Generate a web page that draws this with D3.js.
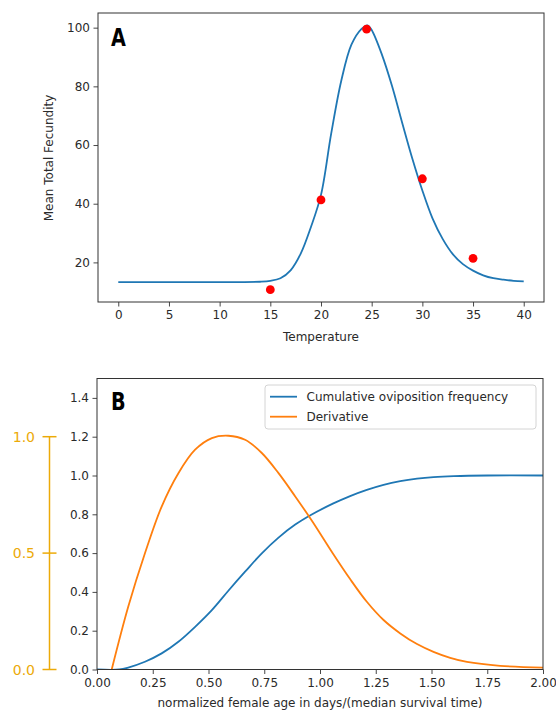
<!DOCTYPE html>
<html>
<head>
<meta charset="utf-8">
<script src="https://cdn.jsdelivr.net/npm/d3@7"></script>
<style>
  body { margin: 0; background: #fff; }
  svg { display: block; }
  text { font-family: "DejaVu Sans", sans-serif; }
</style>
</head>
<body>
<div id="chart"></div>
<script>
// ---------------- data ----------------
// Panel A: observed points
const obsTemp = [15, 20, 24.5, 30, 35];
const obsFecundity = [10.7, 41.3, 99.5, 48.5, 21.4];

// Panel A: fitted curve, read at these temperatures
const fitTemp = [0, 5, 10, 12, 14, 15, 16, 17, 18, 19, 20, 21, 22, 23, 24, 24.6, 25, 26, 27, 28, 29, 30, 31, 32, 33, 34, 35, 36, 37, 38, 39, 40];
const fitFecundity = [13.3, 13.3, 13.3, 13.3, 13.4, 13.7, 14.6, 17.3, 23.0, 32.0, 43.0, 63.8, 81.9, 94.2, 99.6, 100.8, 99.2, 90.9, 80.2, 67.7, 55.5, 44.5, 35.0, 28.0, 22.8, 19.4, 17.2, 15.6, 14.6, 14.1, 13.7, 13.5];

// Panel B: normalized age and the two curves
const ageCum = [0, 0.1, 0.14, 0.215, 0.29, 0.365, 0.44, 0.515, 0.589, 0.664, 0.739, 0.814, 0.889, 0.963, 1.06, 1.135, 1.21, 1.285, 1.36, 1.435, 1.509, 1.6, 1.75, 2.0];
const cumulative = [0, 0, 0.01, 0.04, 0.083, 0.143, 0.22, 0.306, 0.406, 0.504, 0.599, 0.68, 0.747, 0.799, 0.856, 0.894, 0.926, 0.952, 0.971, 0.984, 0.992, 0.997, 1.0, 1.0];

const ageDer = [0.066, 0.14, 0.215, 0.29, 0.365, 0.44, 0.515, 0.589, 0.664, 0.739, 0.814, 0.889, 0.963, 1.06, 1.135, 1.21, 1.285, 1.36, 1.435, 1.509, 1.584, 1.659, 1.808, 2.0];
const derivative = [0, 0.323, 0.599, 0.84, 1.012, 1.133, 1.193, 1.205, 1.184, 1.116, 1.012, 0.892, 0.768, 0.594, 0.466, 0.349, 0.255, 0.186, 0.131, 0.091, 0.06, 0.039, 0.019, 0.01];

const seriesNames = ["Cumulative oviposition frequency", "Derivative"];
const tempTicks = [0, 5, 10, 15, 20, 25, 30, 35, 40];
const fecundityTicks = [20, 40, 60, 80, 100];
const ageTicks = [0, 0.25, 0.5, 0.75, 1, 1.25, 1.5, 1.75, 2];
const freqTicks = [0, 0.2, 0.4, 0.6, 0.8, 1.0, 1.2, 1.4];
const sideTicks = [0, 0.5, 1.0];

// ---------------- setup ----------------
const width = 556, height = 712;
const blue = "#1f77b4", orange = "#ff7f0e", gold = "#ecaa08", spine = "#333";
const smooth = d3.curveCatmullRom.alpha(0.5);

const svg = d3.select("#chart")
  .append("svg")
  .attr("width", width)
  .attr("height", height);

// style an axis group the matplotlib way
function styleAxis(g, size) {
  g.select(".domain").remove();
  g.selectAll(".tick line").attr("stroke", spine).attr("stroke-width", 0.9);
  g.selectAll(".tick text")
    .attr("fill", "#2a2a2a")
    .style("font-size", (size || 12) + "px")
    .style("font-family", "DejaVu Sans, sans-serif");
}

// bold panel letter, squeezed to the narrow face of the original
function panelLetter(x, y, t) {
  svg.append("text")
    .attr("transform", `translate(${x},${y}) scale(0.8,1)`)
    .text(t)
    .style("font-weight", "bold")
    .style("font-size", "24px");
}

// -------------------- Panel A --------------------
const xA = d3.scaleLinear().domain([-2, 42]).range([98, 544]);
const yA = d3.scaleLinear().domain([6.5, 105]).range([302, 13]);

svg.append("g")
  .attr("transform", "translate(0,302)")
  .call(d3.axisBottom(xA).tickValues(tempTicks).tickSize(4.5).tickPadding(4).tickFormat(d3.format("d")))
  .call(g => styleAxis(g));

svg.append("g")
  .attr("transform", "translate(98,0)")
  .call(d3.axisLeft(yA).tickValues(fecundityTicks).tickSize(4.5).tickPadding(3.5).tickFormat(d3.format("d")))
  .call(g => styleAxis(g));

const fitLine = d3.line()
  .x((d, i) => xA(fitTemp[i]))
  .y(d => yA(d))
  .curve(smooth);

svg.append("path")
  .datum(fitFecundity)
  .attr("d", fitLine)
  .attr("fill", "none")
  .attr("stroke", blue)
  .attr("stroke-width", 1.8);

svg.selectAll(".obs")
  .data(obsFecundity)
  .join("circle")
  .attr("class", "obs")
  .attr("cx", (d, i) => xA(obsTemp[i]))
  .attr("cy", d => yA(d))
  .attr("r", 4.4)
  .attr("fill", "red");

svg.append("rect")
  .attr("x", 98).attr("y", 13)
  .attr("width", 544 - 98).attr("height", 302 - 13)
  .attr("fill", "none").attr("stroke", spine).attr("stroke-width", 1);

panelLetter(111, 46, "A");

svg.append("text")
  .attr("x", 321).attr("y", 341)
  .attr("text-anchor", "middle")
  .attr("fill", "#2a2a2a")
  .style("font-size", "12px")
  .text("Temperature");

svg.append("text")
  .attr("transform", "translate(53,158) rotate(-90)")
  .attr("text-anchor", "middle")
  .attr("fill", "#2a2a2a")
  .style("font-size", "12px")
  .text("Mean Total Fecundity");

// -------------------- Panel B --------------------
const xB = d3.scaleLinear().domain([0, 2]).range([97, 543]);
const yB = d3.scaleLinear().domain([0, 1.5]).range([669.5, 378.5]);
// side scale: 0..1 sits over 0..1.2 of the main axis
const ySide = d3.scaleLinear().domain([0, 1]).range([yB(0), yB(1.2)]);

svg.append("g")
  .attr("transform", "translate(0,669.5)")
  .call(d3.axisBottom(xB).tickValues(ageTicks).tickSize(4.5).tickPadding(4).tickFormat(d3.format(".2f")))
  .call(g => styleAxis(g));

svg.append("g")
  .attr("transform", "translate(97,0)")
  .call(d3.axisLeft(yB).tickValues(freqTicks).tickSize(4.5).tickPadding(3.5).tickFormat(d3.format(".1f")))
  .call(g => styleAxis(g));

svg.append("defs").append("clipPath")
  .attr("id", "clipB")
  .append("rect")
  .attr("x", 97).attr("y", 378.5)
  .attr("width", 543 - 97).attr("height", 669.5 - 378.5);

const plotB = svg.append("g").attr("clip-path", "url(#clipB)");

plotB.append("path")
  .datum(cumulative)
  .attr("d", d3.line().x((d, i) => xB(ageCum[i])).y(d => yB(d)).curve(smooth))
  .attr("fill", "none")
  .attr("stroke", blue)
  .attr("stroke-width", 1.8);

plotB.append("path")
  .datum(derivative)
  .attr("d", d3.line().x((d, i) => xB(ageDer[i])).y(d => yB(d)).curve(smooth))
  .attr("fill", "none")
  .attr("stroke", orange)
  .attr("stroke-width", 1.8);

svg.append("rect")
  .attr("x", 97).attr("y", 378.5)
  .attr("width", 543 - 97).attr("height", 669.5 - 378.5)
  .attr("fill", "none").attr("stroke", spine).attr("stroke-width", 1);

// side axis in gold, ticks crossing the spine
const side = svg.append("g").attr("transform", "translate(49.5,0)");
side.append("line")
  .attr("x1", 0).attr("x2", 0)
  .attr("y1", ySide(0)).attr("y2", ySide(1))
  .attr("stroke", gold).attr("stroke-width", 1.5);
side.selectAll(".stick")
  .data(sideTicks)
  .join("line")
  .attr("class", "stick")
  .attr("x1", -7).attr("x2", 7)
  .attr("y1", d => ySide(d)).attr("y2", d => ySide(d))
  .attr("stroke", gold).attr("stroke-width", 1.5);
side.selectAll(".slab")
  .data(sideTicks)
  .join("text")
  .attr("class", "slab")
  .attr("x", -14.5)
  .attr("y", d => ySide(d))
  .attr("dy", "0.36em")
  .attr("text-anchor", "end")
  .attr("fill", gold)
  .style("font-size", "14px")
  .text(d => d3.format(".1f")(d));

// legend
const legend = svg.append("g");
legend.append("rect")
  .attr("x", 265).attr("y", 385)
  .attr("width", 271).attr("height", 44)
  .attr("rx", 3)
  .attr("fill", "white").attr("fill-opacity", 0.8)
  .attr("stroke", "#d4d4d4");
[blue, orange].forEach((c, i) => {
  const y = 396.7 + i * 20;
  legend.append("line")
    .attr("x1", 270).attr("x2", 297)
    .attr("y1", y).attr("y2", y)
    .attr("stroke", c).attr("stroke-width", 1.8);
  legend.append("text")
    .attr("x", 306.5).attr("y", y)
    .attr("dy", "0.36em")
    .attr("fill", "#2a2a2a")
    .style("font-size", "12px")
    .text(seriesNames[i]);
});

panelLetter(111, 410, "B");

svg.append("text")
  .attr("x", 320).attr("y", 707)
  .attr("text-anchor", "middle")
  .attr("fill", "#2a2a2a")
  .style("font-size", "12px")
  .text("normalized female age in days/(median survival time)");
</script>
</body>
</html>
